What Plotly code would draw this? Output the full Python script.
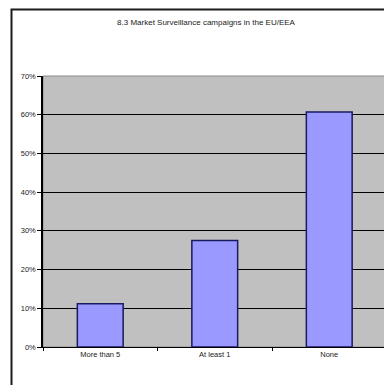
import plotly.graph_objects as go

categories = ["More than 5", "At least 1", "None"]
values = [0.112, 0.275, 0.607]
y_ticks = [0, 0.1, 0.2, 0.3, 0.4, 0.5, 0.6, 0.7]
y_labels = ["0%", "10%", "20%", "30%", "40%", "50%", "60%", "70%"]
title_text = "8.3 Market Surveillance campaigns in the EU/EEA"

W, H = 384, 385
L, R, T, B = 43, 0, 76, 38
pw = W - L - R
ph = H - T - B

def px_x(p):
    return (p - L) / pw

def px_y(p):
    return (H - B - p) / ph

font = "Liberation Sans Narrow, Liberation Sans, Arial"

fig = go.Figure()
fig.add_trace(go.Bar(
    x=categories, y=values, width=0.4,
    marker=dict(color="#9999ff", line=dict(color="#1a1a60", width=1.5)),
))

shapes = [
    # chart frame
    dict(type="rect", xref="paper", yref="paper", x0=px_x(11.5), x1=px_x(395), y0=px_y(395), y1=px_y(9.5),
         fillcolor="white", line=dict(color="#1a1a1a", width=2), layer="below"),
    # plot area bg
    dict(type="rect", xref="paper", yref="paper", x0=0, x1=1.02, y0=0, y1=1,
         fillcolor="#c0c0c0", line=dict(color="#8a8a8a", width=1), layer="below"),
]

fig.update_layout(
    width=W, height=H,
    margin=dict(l=L, r=R, t=T, b=B, pad=0),
    paper_bgcolor="white",
    plot_bgcolor="rgba(0,0,0,0)",
    showlegend=False,
    shapes=shapes,
    title=dict(text=title_text, x=206 / W, xanchor="center",
               y=1 - 22 / H, yanchor="middle",
               font=dict(family=font, size=8, color="#222222")),
    xaxis=dict(range=[-0.5, -0.5 + pw / 114.5], showgrid=False, ticks="outside",
               tickson="boundaries", ticklen=3, tickcolor="black",
               showline=True, linecolor="black", linewidth=1,
               tickfont=dict(family=font, size=7.5, color="#222222")),
    yaxis=dict(range=[0, 0.7], tickvals=y_ticks, ticktext=y_labels,
               showgrid=True, gridcolor="black", gridwidth=1,
               ticks="outside", ticklen=4, tickcolor="black",
               showline=True, linecolor="black", linewidth=1.5,
               zeroline=False,
               tickfont=dict(family=font, size=7.5, color="#222222")),
    bargap=0.6,
)

fig.write_html("out.html")
